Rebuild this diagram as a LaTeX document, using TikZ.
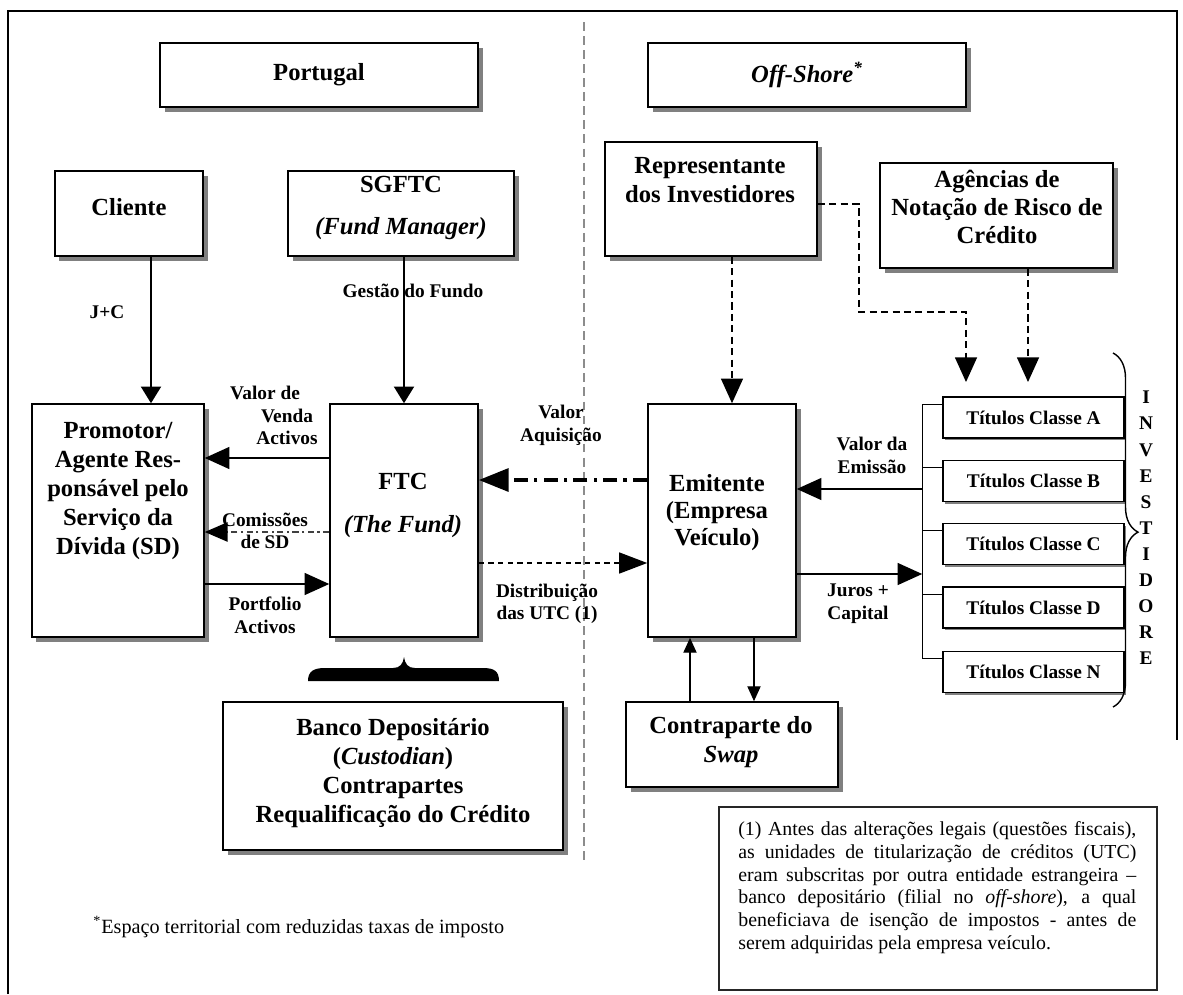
\documentclass[tikz,border=0pt]{standalone}
\usepackage{fontspec}
\setmainfont{Liberation Serif}
\usetikzlibrary{arrows.meta,shadows,decorations.pathreplacing,calc}
\newlength{\pxu}\setlength{\pxu}{0.02cm}
\begin{document}
\begin{tikzpicture}[x=0.02cm,y=-0.02cm,
  box/.style={draw=black, line width=0.9pt, fill=white, inner sep=0pt,
    drop shadow={shadow xshift=0.09cm, shadow yshift=-0.09cm, fill=black!50, opacity=1}},
  tbox/.style={draw=black, line width=0.9pt, fill=white, inner sep=0pt,
    minimum width=181\pxu, minimum height=41\pxu, font=\fontsize{11}{13}\selectfont\bfseries,
    drop shadow={shadow xshift=0.045cm, shadow yshift=-0.045cm, fill=black!50, opacity=1}},
  btxt/.style={font=\fontsize{14}{16.5}\selectfont\bfseries, align=center, inner sep=0pt},
  lbl/.style={font=\fontsize{11}{12.8}\selectfont\bfseries, align=center, inner sep=0pt},
  conn/.style={line width=0.8pt, draw=black},
  bigtip/.style={-{Triangle[length=14pt,width=12.5pt]}},
  midtip/.style={-{Triangle[length=9.5pt,width=11.5pt]}},
  smalltip/.style={-{Triangle[length=8.5pt,width=7.5pt]}},
  dashdotthin/.style={dash pattern=on 3.5pt off 2pt on 1.2pt off 2pt},
  dashdotthick/.style={line width=2.2pt, dash pattern=on 8pt off 3.5pt on 2pt off 3.5pt},
  dashthin/.style={dash pattern=on 3pt off 2.5pt},
  dashmid/.style={dash pattern=on 4pt off 2.5pt}
]
\useasboundingbox (0,0) rectangle (1183,994);

% page frame and the Portugal / off-shore divider
\draw[line width=1pt] (8,994) -- (8,11) -- (1177,11) -- (1177,740);
\coordinate (divTop) at (584,22);
\coordinate (divBot) at (584,862);
\draw[black!45, line width=0.6pt, dash pattern=on 5pt off 3pt] (divTop) -- (divBot);

% headings
\node[box, minimum width=318\pxu, minimum height=64\pxu, font=\fontsize{14}{16.5}\selectfont\bfseries] (portugal) at (319,75) {Portugal};
\node[box, minimum width=318\pxu, minimum height=64\pxu, font=\fontsize{14}{16.5}\selectfont\bfseries\itshape] (offshore) at (807,75) {Off-Shore\textsuperscript{*}};

% Portuguese side
\node[box, minimum width=148\pxu, minimum height=85\pxu] (cliente) at (129,213.5) {};
\node[btxt] (clienteT) at (129,207) {Cliente};
\node[box, minimum width=226\pxu, minimum height=85\pxu] (sgftc) at (401,213.5) {};
\node[btxt] (sgftcT) at (401,208) {SGFTC\\[7pt]\textit{(Fund Manager)}};
\node[box, minimum width=172\pxu, minimum height=233\pxu] (promotor) at (118,520.5) {};
\node[btxt] (promotorT) at (118,491) {Promotor/\\Agente Res-\\ponsável pelo\\Serviço da\\Dívida (SD)};
\node[box, minimum width=148\pxu, minimum height=233\pxu] (ftc) at (404,520.5) {};
\node[btxt] (ftcT) at (403,505.5) {FTC\\[8pt]\textit{(The Fund)}};
\node[box, minimum width=340\pxu, minimum height=148\pxu] (banco) at (393,776) {};
\node[btxt] (bancoT) at (393,773.5) {Banco Depositário\\(\textit{Custodian})\\Contrapartes\\Requalificação do Crédito};

% off-shore side
\node[box, minimum width=212\pxu, minimum height=114\pxu] (rep) at (711,199) {};
\node[btxt] (repT) at (710,180.5) {Representante\\dos Investidores};
\node[box, minimum width=233\pxu, minimum height=105\pxu] (agencias) at (996.5,215.5) {};
\node[btxt, font=\fontsize{14}{16}\selectfont\bfseries] (agenciasT) at (997,207) {Agências de\\Notação de Risco de\\Crédito};
\node[box, minimum width=148\pxu, minimum height=233\pxu] (emitente) at (722,520.5) {};
\node[btxt, font=\fontsize{14}{15.6}\selectfont\bfseries] (emitenteT) at (717,512.5) {Emitente\\(Empresa\\Veículo)};
\node[box, minimum width=212\pxu, minimum height=85\pxu] (swap) at (732,744.5) {};
\node[btxt] (swapT) at (731,742.5) {Contraparte do\\\textit{Swap}};

\node[tbox] (tA) at (1033.5,417.5) {Títulos Classe A};
\node[tbox] (tB) at (1033.5,481) {Títulos Classe B};
\node[tbox] (tC) at (1033.5,544) {Títulos Classe C};
\node[tbox] (tD) at (1033.5,607.5) {Títulos Classe D};
\node[tbox] (tN) at (1033.5,672) {Títulos Classe N};

% brace under the fund
\fill (308,681) .. controls (308,671) and (314,668) .. (325,668) -- (393,668)
  .. controls (400,668) and (403,664) .. (404,657)
  .. controls (405,664) and (408,668) .. (415,668) -- (483,668)
  .. controls (494,668) and (499,671) .. (499,681) -- cycle;

% investors brace and label
\coordinate (invTop) at (1113,353);
\coordinate (invBot) at (1113,707);
\draw[line width=0.8pt, decorate, decoration={brace, amplitude=0.5cm, aspect=0.506}] (invTop) -- (invBot);
\node[lbl, font=\fontsize{11}{14.85}\selectfont\bfseries] (invest) at (1146,528) {I\\N\\V\\E\\S\\T\\I\\D\\O\\R\\E};

% levels of the horizontal flows
\coordinate (xCli) at (151,0);
\coordinate (yVenda) at (0,458);
\coordinate (yComis) at (0,532);
\coordinate (yPort) at (0,584);
\coordinate (yAquis) at (0,480);
\coordinate (yDistr) at (0,563);
\coordinate (yEmiss) at (0,489);
\coordinate (yJuros) at (0,574);
\coordinate (xRep) at (732,0);
\coordinate (xUp) at (690,0);
\coordinate (xDown) at (754,0);

% vertical flows on the Portuguese side
\draw[conn, midtip] (cliente.south -| xCli) -- (promotor.north -| xCli);
\draw[conn, midtip] (ftc.north |- sgftc.south) -- (ftc.north);
\node[lbl] (jc) at (107,312) {J+C};
\node[lbl] (gestao) at (413,291) {Gestão do Fundo};

% flows between promoter and fund
\draw[conn, bigtip] (ftc.west |- yVenda) -- (promotor.east |- yVenda);
\draw[conn, draw=black!75, dashdotthin, -{Triangle[length=13pt,width=11pt,black]}] (ftc.west |- yComis) -- (promotor.east |- yComis);
\draw[conn, bigtip] (promotor.east |- yPort) -- (ftc.west |- yPort);
\node[lbl] (venda) at (287,415.5) {Valor de\hspace*{25pt}\\Venda\\Activos};
\node[lbl] (comis) at (265,531) {Comissões\\de SD};
\node[lbl] (portf) at (265,615.5) {Portfolio\\Activos};

% flows between fund and issuer
\draw[conn, dashdotthick, -{Triangle[length=17pt,width=13pt]}] (emitente.west |- yAquis) -- (ftc.east |- yAquis);
\draw[conn, dashthin, -{Triangle[length=16pt,width=12pt]}] (ftc.east |- yDistr) -- (emitente.west |- yDistr);
\node[lbl] (aquis) at (561,425.5) {Valor\\Aquisição};
\node[lbl] (distr) at (547,604) {Distribuição\\das UTC (1)};

% investors' representative and rating agencies
\draw[conn, dashmid, bigtip] (rep.south -| xRep) -- (emitente.north -| xRep);
\coordinate (repOut) at (0,204);
\coordinate (repB1) at (859,204);
\coordinate (repB2) at (859,312);
\coordinate (repB3) at (966,312);
\coordinate (repEnd) at (966,382);
\coordinate (agEnd) at (1028,382);
\draw[conn, dashmid, bigtip] (rep.east |- repOut) -- (repB1) -- (repB2) -- (repB3) -- (repEnd);
\draw[conn, dashmid, bigtip] (agencias.south -| agEnd) -- (agEnd);

% bracket gathering the note classes
\coordinate (brkTop) at ($(tA.north west)+(-20,8)$);
\coordinate (brkBot) at ($(tN.north west)+(-20,8)$);
\draw[conn] (brkTop) -- (brkBot);
\foreach \t in {tA,tB,tC,tD,tN} {
  \draw[conn] ($(\t.north west)+(0,8)$) -- ++(-20,0);
}
\draw[conn, bigtip] (brkTop |- yEmiss) -- (emitente.east |- yEmiss);
\draw[conn, bigtip] (emitente.east |- yJuros) -- (brkTop |- yJuros);
\node[lbl] (emiss) at (872,455.5) {Valor da\\Emissão};
\node[lbl] (juros) at (858,603.5) {Juros +\\Capital};

% swap counterparty
\draw[conn, smalltip] (swap.north -| xUp) -- (emitente.south -| xUp);
\draw[conn, smalltip] (emitente.south -| xDown) -- (swap.north -| xDown);

% explanatory note and footnote
\node[draw=black!85, line width=1.2pt, minimum width=438\pxu, minimum height=183\pxu, inner sep=0pt] (note) at (938,898.5) {};
\node[anchor=north west, text width=398\pxu, align=justify, inner sep=0pt,
      font=\fontsize{11.3}{13}\selectfont] (noteT) at (738,821)
  {\hyphenpenalty=10000\emergencystretch=3em
   (1) Antes das alterações legais (questões fiscais),\linebreak
   as unidades de titularização de créditos (UTC)\linebreak
   eram subscritas por outra entidade estrangeira –\linebreak
   banco depositário (filial no \textit{off-shore}), a qual\linebreak
   beneficiava de isenção de impostos - antes de\linebreak
   serem adquiridas pela empresa veículo.};
\node[anchor=west, inner sep=0pt, font=\fontsize{11.5}{13}\selectfont] (foot) at (93,927)
  {\textsuperscript{*}Espaço territorial com reduzidas taxas de imposto};
\end{tikzpicture}
\end{document}
